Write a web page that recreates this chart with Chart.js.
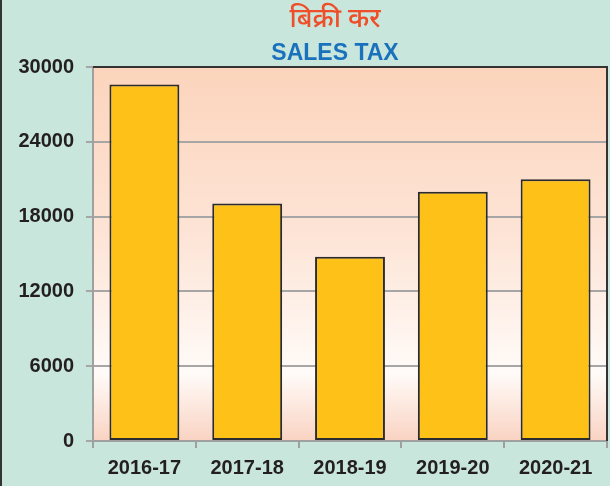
<!DOCTYPE html>
<html>
<head>
<meta charset="utf-8">
<script src="https://cdn.jsdelivr.net/npm/chart.js@4.4.1/dist/chart.umd.min.js"></script>
<style>
  html, body { margin: 0; padding: 0; background: #C9E6DC; }
  #wrap { width: 610px; height: 486px; position: relative; }
</style>
</head>
<body>
<div id="wrap"><canvas id="salesTaxChart"></canvas></div>
<script>
var years = ['2016-17', '2017-18', '2018-19', '2019-20', '2020-21'];
var salesTax = [28600, 19050, 14780, 20000, 21000];
var yTicks = [0, 6000, 12000, 18000, 24000, 30000];
var titleHindi = 'बिक्री कर';
var titleEnglish = 'SALES TAX';

// background, plot gradient, borders and the two title lines
var decoPlugin = {
    id: 'deco',
    beforeDraw: function (chart) {
        var c = chart.ctx, a = chart.chartArea;
        c.save();
        c.fillStyle = '#C9E6DC';
        c.fillRect(0, 0, chart.width, chart.height);
        var g = c.createLinearGradient(0, a.top, 0, a.bottom);
        g.addColorStop(0, '#FCD4BC');
        g.addColorStop(0.45, '#FDE4D6');
        g.addColorStop(0.82, '#FFFBF8');
        g.addColorStop(1, '#F9D3C2');
        c.fillStyle = g;
        c.fillRect(a.left, a.top, a.right - a.left, a.bottom - a.top);
        // frame on the left
        c.fillStyle = '#333333';
        c.fillRect(0, 0, 2, chart.height);
        c.restore();
    },
    afterDraw: function (chart) {
        var c = chart.ctx, a = chart.chartArea;
        c.save();
        c.strokeStyle = '#333333';
        c.lineWidth = 2;
        c.beginPath();
        c.moveTo(a.left, a.top);
        c.lineTo(a.right, a.top);
        c.lineTo(a.right, a.bottom);
        c.stroke();
        c.textAlign = 'center';
        c.textBaseline = 'middle';
        c.fillStyle = '#EE4F2A';
        c.font = '500 27px "Noto Sans", sans-serif';
        c.fillText(titleHindi, 335, 19);
        c.fillStyle = '#1A72BD';
        c.font = 'bold 23px "Liberation Sans", Arial, sans-serif';
        c.fillText(titleEnglish, 335, 54);
        c.restore();
    }
};

var ctx = document.getElementById('salesTaxChart').getContext('2d');
var myBarChart = new Chart(ctx, {
    type: 'bar',
    data: {
        labels: years,
        datasets: [{
            data: salesTax,
            backgroundColor: '#FDC118',
            borderColor: '#2B2B2B',
            borderWidth: 2,
            borderSkipped: false,
            categoryPercentage: 1,
            barPercentage: 0.68
        }]
    },
    options: {
        responsive: true,
        maintainAspectRatio: false,
        animation: false,
        layout: { padding: { top: 67, right: 3, left: 0, bottom: 0 } },
        plugins: {
            legend: { display: false },
            tooltip: { enabled: false }
        },
        scales: {
            x: {
                afterFit: function (s) { s.height = 45; },
                grid: {
                    display: true,
                    drawOnChartArea: false,
                    color: '#A0A0A0',
                    lineWidth: 2,
                    tickLength: 7
                },
                border: { color: '#A0A0A0', width: 2 },
                ticks: {
                    color: '#231F20',
                    padding: 8,
                    font: { family: '"Liberation Sans", Arial, sans-serif', size: 20, weight: 'bold' }
                }
            },
            y: {
                min: 0,
                max: 30000,
                afterFit: function (s) { s.width = 93; },
                afterBuildTicks: function (s) {
                    s.ticks = yTicks.map(function (v) { return { value: v }; });
                },
                grid: {
                    color: '#A6A6A6',
                    lineWidth: 2,
                    tickLength: 7
                },
                border: { color: '#A0A0A0', width: 2 },
                ticks: {
                    color: '#231F20',
                    padding: 12,
                    callback: function (v) { return String(v); },
                    font: { family: '"Liberation Sans", Arial, sans-serif', size: 20, weight: 'bold' }
                }
            }
        }
    },
    plugins: [decoPlugin]
});
</script>
</body>
</html>
